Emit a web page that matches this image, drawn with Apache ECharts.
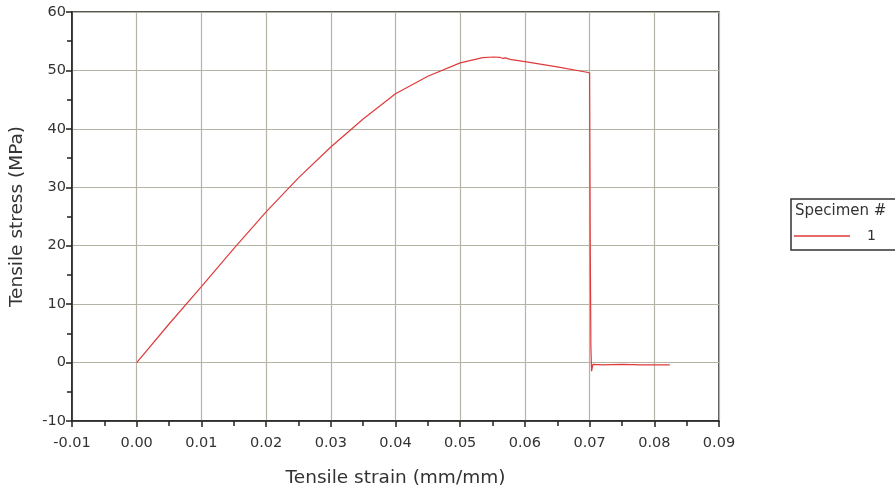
<!DOCTYPE html>
<html>
<head>
<meta charset="utf-8">
<script src="https://cdn.jsdelivr.net/npm/echarts@6/dist/echarts.min.js"></script>
<style>html,body{margin:0;padding:0;background:#fff}#c{width:895px;height:494px}</style>
</head>
<body>
<div id="c"></div>
<script>
const strain = [0, 0.005, 0.01, 0.015, 0.02, 0.025, 0.03, 0.035, 0.04, 0.045, 0.05, 0.0535, 0.0552, 0.0561, 0.0566, 0.057, 0.0577, 0.06, 0.065, 0.07, 0.0701, 0.0702, 0.0703, 0.0705, 0.072, 0.075, 0.078, 0.0824];
const stress = [0, 6.6, 13.0, 19.5, 25.8, 31.6, 36.9, 41.7, 46.0, 49.0, 51.3, 52.2, 52.3, 52.25, 52.05, 52.15, 51.9, 51.5, 50.6, 49.6, 20.0, 2.7, -1.5, -0.3, -0.4, -0.3, -0.4, -0.4];
const seriesName = '1';
const legendTitle = 'Specimen #';
const xTitle = 'Tensile strain (mm/mm)';
const yTitle = 'Tensile stress (MPa)';

const data = strain.map((s, i) => [s, stress[i]]);
const font = 'DejaVu Sans, Verdana, sans-serif';
const axisCommon = {
  type: 'value', nameLocation: 'middle',
  nameTextStyle: { fontFamily: font, fontSize: 18.5, color: '#333' },
  axisLine: { show: true, onZero: false, lineStyle: { color: '#222', width: 1.5 } },
  axisTick: { show: true, length: 6, lineStyle: { color: '#222', width: 1.5 } },
  minorTick: { show: true, splitNumber: 2, length: 5, lineStyle: { color: '#222', width: 1.5 } },
  splitLine: { show: true, lineStyle: { color: '#b5b3a4', width: 1.2 } }
};
const chart = echarts.init(document.getElementById('c'));
chart.setOption({
  animation: false,
  grid: { left: 72, right: 176, top: 12, bottom: 73, show: true, borderColor: '#222', borderWidth: 1.5 },
  xAxis: Object.assign({}, axisCommon, {
    min: -0.01, max: 0.09, interval: 0.01,
    name: xTitle, nameGap: 48,
    axisLabel: { fontFamily: font, fontSize: 14.5, color: '#333', margin: 15, formatter: v => v.toFixed(2) }
  }),
  yAxis: Object.assign({}, axisCommon, {
    min: -10, max: 60, interval: 10,
    name: yTitle, nameGap: 45,
    axisLabel: { fontFamily: font, fontSize: 14.5, color: '#333', margin: 6 }
  }),
  legend: {
    left: 794, top: 229, padding: 0, itemWidth: 56, itemHeight: 1.5, icon: 'rect',
    data: [{ name: seriesName }],
    textStyle: { fontFamily: font, fontSize: 14, color: '#333', padding: [0, 0, 0, 12] }
  },
  graphic: [
    { type: 'rect', shape: { x: 791, y: 199, width: 110, height: 51 }, style: { fill: 'none', stroke: '#333', lineWidth: 1.5 } },
    { type: 'text', x: 795, y: 204, style: { text: legendTitle, font: '15px ' + font, fill: '#333' } }
  ],
  series: [{
    name: seriesName, type: 'line', data: data, symbol: 'none',
    lineStyle: { color: '#e03a3a', width: 1.2 }, itemStyle: { color: '#e03a3a' }
  }]
});
</script>
</body>
</html>
